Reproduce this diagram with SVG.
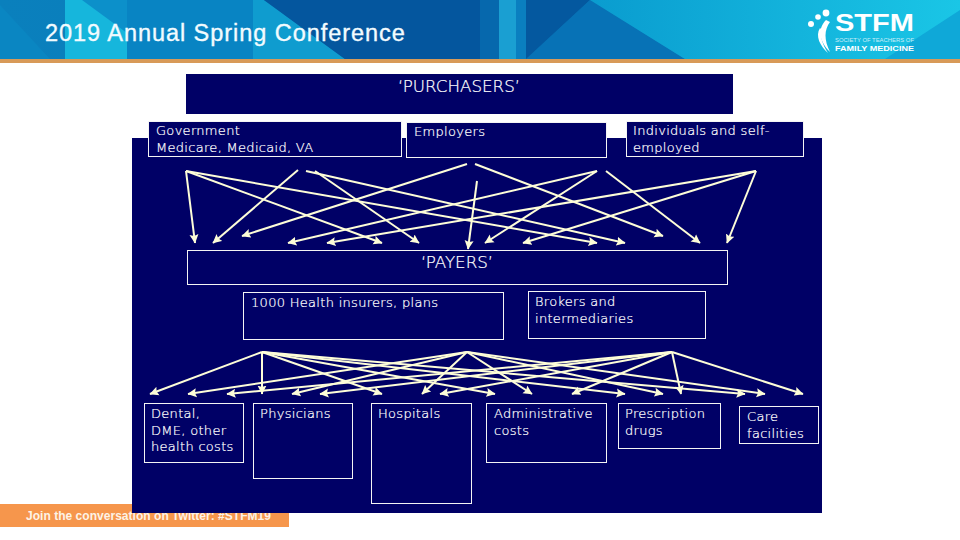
<svg xmlns="http://www.w3.org/2000/svg" width="960" height="540" viewBox="0 0 960 540">
<style>
.box{fill:#000066;stroke:#f4f4f4;stroke-width:1}
.t{font-family:"DejaVu Sans",sans-serif;font-size:13px;font-weight:200;letter-spacing:.3px;fill:#ffffff;stroke:#ffffff;stroke-width:.22px}
.h{font-size:16.700px;letter-spacing:0}
.c line{stroke:#fdfdd8;stroke-width:2;marker-end:url(#a)}
</style>
<defs>
<marker id="a" markerUnits="userSpaceOnUse" markerWidth="10" markerHeight="10" refX="8.500" refY="5" orient="auto"><path d="M0 0.5L9 5L0 9.500L1.500 5Z" fill="#fdfdd8"/></marker>
<linearGradient id="hg" x1="0" x2="1" y1="0" y2="0"><stop offset="0" stop-color="#0a80bd"/><stop offset=".2" stop-color="#0a7dbb"/><stop offset=".42" stop-color="#04559d"/><stop offset=".52" stop-color="#03589f"/><stop offset=".68" stop-color="#0a86c2"/><stop offset="1" stop-color="#16bfe2"/></linearGradient>
<linearGradient id="hr" x1="0" x2="1" y1="0" y2="0"><stop offset="0" stop-color="#0a9ccf"/><stop offset="1" stop-color="#1ac6e6"/></linearGradient>
</defs>
<rect width="960" height="540" fill="#fff"/>
<g id="header">
<rect width="960" height="59" fill="url(#hg)"/>
<polygon points="0,5 50,59 0,59" fill="#0a86c2"/>
<polygon points="65,0 127,0 127,59 65,59" fill="#16b6dc"/>
<polygon points="82,0 127,0 127,33" fill="#0c90ca"/>
<polygon points="127,0 253,0 253,59 127,59" fill="#0884c3"/>
<polygon points="253,0 264,0 345,59 253,59" fill="#0f9ccf"/>
<polygon points="264,0 480,0 480,59 345,59" fill="#04569e"/>
<polygon points="480,0 499,0 499,59 480,59" fill="#0668ad"/>
<polygon points="499,0 516,0 516,59 499,59" fill="#1a9fd2"/>
<polygon points="516,0 526,0 526,59 516,59" fill="#0a7fc0"/>
<polygon points="526,0 590,0 526,59" fill="#04589f"/>
<polygon points="590,0 685,59 526,59" fill="#0772b6"/>
<polygon points="590,0 960,0 960,59 685,59" fill="url(#hr)"/>
<polygon points="885,59 960,10 960,59" fill="#0fa8d8"/>
<rect y="59" width="960" height="4" fill="#d89a58"/>
<text x="45" y="41" font-family="'Liberation Sans',Arial,sans-serif" font-size="23.500" letter-spacing=".95" fill="#f2fbff" style="stroke:#f2fbff;stroke-width:.35">2019 Annual Spring Conference</text>
</g>
<g id="logo" fill="#fff">
<circle cx="826" cy="13" r="3.400"/><circle cx="818" cy="17" r="2.800"/><circle cx="811" cy="24" r="3"/>
<path d="M826 20C818 28 818 40 830 52C824 40 824 30 830 22Z"/>
<path d="M820 28C815 36 820 46 828 53C822 44 820 36 822 30Z"/>
<text x="835" y="31" font-family="'Liberation Sans',Arial,sans-serif" font-size="24" font-weight="700" textLength="79" lengthAdjust="spacingAndGlyphs">STFM</text>
<text x="835" y="41.500" font-family="'Liberation Sans',Arial,sans-serif" font-size="5.500" textLength="79" lengthAdjust="spacingAndGlyphs" fill="#cdeef8">SOCIETY OF TEACHERS OF</text>
<text x="835" y="51" font-family="'Liberation Sans',Arial,sans-serif" font-size="8" font-weight="700" textLength="79" lengthAdjust="spacingAndGlyphs">FAMILY MEDICINE</text>
</g>
<g id="footer">
<rect x="0" y="504" width="289" height="23" fill="#f6964c"/>
<text x="26" y="520" font-family="'Liberation Sans',Arial,sans-serif" font-size="12" font-weight="700" fill="#fdf3e6" textLength="245">Join the conversation on Twitter: #STFM19</text>
</g>
<rect id="panel" x="132" y="138" width="690" height="375" fill="#000066"/>
<g id="purchasers"><rect x="186" y="74" width="547" height="40" fill="#000066"/><text class="t h" x="398" y="92">‘PURCHASERS’</text></g>
<g id="government"><rect class="box" x="148.500" y="121.500" width="253" height="35"/><text class="t" x="156" y="135">Government</text><text class="t" x="156" y="152">Medicare, Medicaid, VA</text></g>
<g id="employers"><rect class="box" x="406.500" y="122.500" width="200" height="35"/><text class="t" x="414" y="136">Employers</text></g>
<g id="individuals"><rect class="box" x="626.500" y="121.500" width="177" height="35"/><text class="t" x="633" y="135">Individuals and self-</text><text class="t" x="633" y="152">employed</text></g>
<g id="payers"><rect class="box" x="187.500" y="250.500" width="540" height="34"/><text class="t h" x="421" y="268">‘PAYERS’</text></g>
<g id="insurers"><rect class="box" x="243.500" y="292.500" width="260" height="47"/><text class="t" x="251" y="307">1000 Health insurers, plans</text></g>
<g id="brokers"><rect class="box" x="528.500" y="291.500" width="177" height="47"/><text class="t" x="535" y="306">Brokers and</text><text class="t" x="535" y="323">intermediaries</text></g>
<g id="dental"><rect class="box" x="144.500" y="403.500" width="99" height="59"/><text class="t" x="151" y="418">Dental,</text><text class="t" x="151" y="435">DME, other</text><text class="t" x="151" y="451">health costs</text></g>
<g id="physicians"><rect class="box" x="253.500" y="403.500" width="99" height="75"/><text class="t" x="260" y="418">Physicians</text></g>
<g id="hospitals"><rect class="box" x="371.500" y="403.500" width="100" height="100"/><text class="t" x="378" y="418">Hospitals</text></g>
<g id="admin"><rect class="box" x="486.500" y="403.500" width="120" height="59"/><text class="t" x="494" y="418">Administrative</text><text class="t" x="494" y="435">costs</text></g>
<g id="prescription"><rect class="box" x="618.500" y="403.500" width="102" height="45"/><text class="t" x="625" y="418">Prescription</text><text class="t" x="625" y="435">drugs</text></g>
<g id="care"><rect class="box" x="739.500" y="406.500" width="79" height="37"/><text class="t" x="747" y="421">Care</text><text class="t" x="747" y="438">facilities</text></g>
<g id="connectors" class="c">
<line x1="186" y1="171" x2="195" y2="243"/>
<line x1="186" y1="171" x2="382" y2="243"/>
<line x1="186" y1="171" x2="597" y2="243"/>
<line x1="298" y1="170" x2="213" y2="243"/>
<line x1="306" y1="171" x2="625" y2="243"/>
<line x1="315" y1="171" x2="419" y2="243"/>
<line x1="467" y1="164" x2="242" y2="236"/>
<line x1="475" y1="164" x2="663" y2="236"/>
<line x1="477" y1="181" x2="468" y2="249"/>
<line x1="597" y1="171" x2="288" y2="243"/>
<line x1="597" y1="171" x2="485" y2="243"/>
<line x1="606" y1="171" x2="700" y2="243"/>
<line x1="756" y1="171" x2="327" y2="243"/>
<line x1="756" y1="171" x2="523" y2="243"/>
<line x1="756" y1="171" x2="727" y2="243"/>
<line x1="262" y1="352" x2="150" y2="394"/>
<line x1="262" y1="352" x2="262" y2="394"/>
<line x1="262" y1="352" x2="382" y2="394"/>
<line x1="262" y1="352" x2="495" y2="394"/>
<line x1="262" y1="352" x2="625" y2="394"/>
<line x1="262" y1="352" x2="745" y2="394"/>
<line x1="467" y1="352" x2="188" y2="394"/>
<line x1="467" y1="352" x2="292" y2="394"/>
<line x1="467" y1="352" x2="422" y2="394"/>
<line x1="467" y1="352" x2="532" y2="394"/>
<line x1="467" y1="352" x2="663" y2="394"/>
<line x1="467" y1="352" x2="765" y2="394"/>
<line x1="672" y1="352" x2="227" y2="394"/>
<line x1="672" y1="352" x2="320" y2="394"/>
<line x1="672" y1="352" x2="440" y2="394"/>
<line x1="672" y1="352" x2="572" y2="394"/>
<line x1="672" y1="352" x2="681" y2="394"/>
<line x1="672" y1="352" x2="803" y2="394"/>
</g>
</svg>
